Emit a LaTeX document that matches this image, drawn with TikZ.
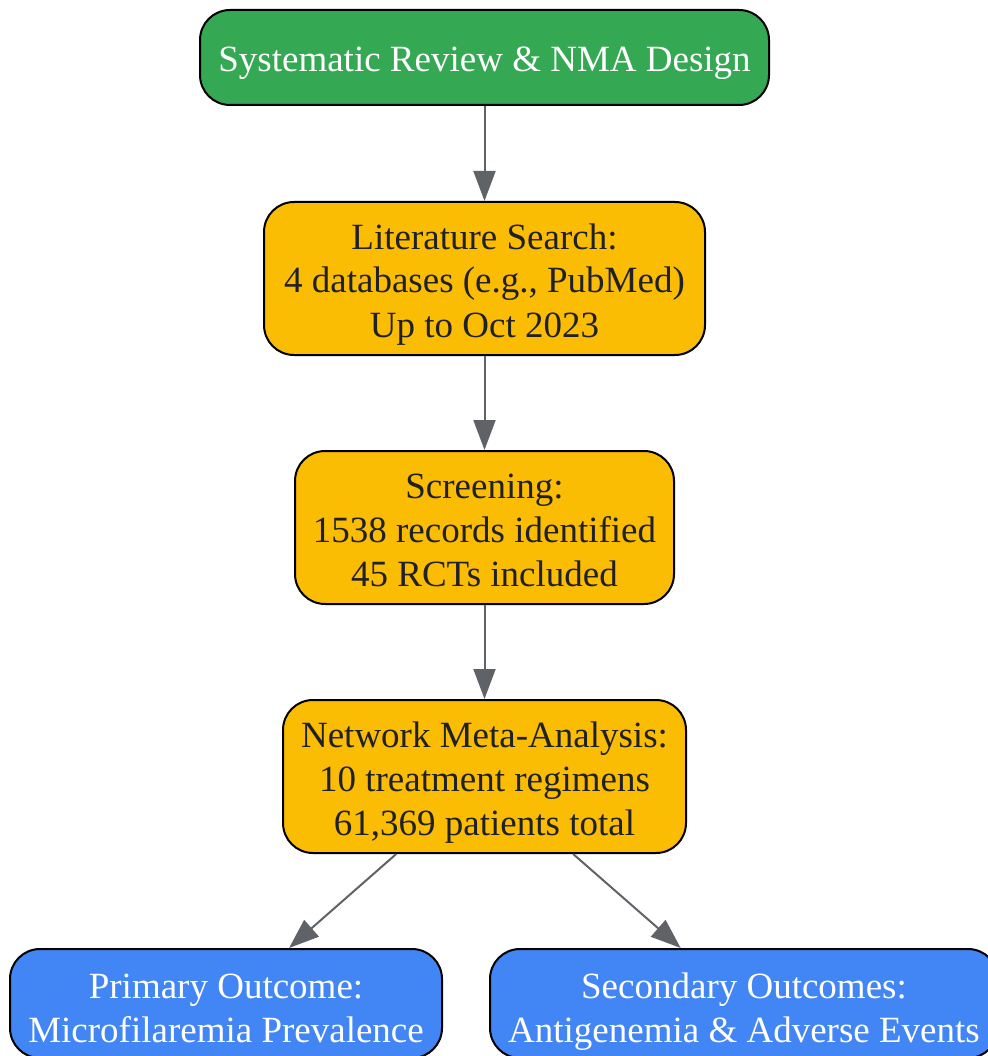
\documentclass[tikz,border=0pt]{standalone}
\usepackage{fontspec}
\setmainfont{Liberation Serif}
\usetikzlibrary{arrows.meta}
\definecolor{gGreen}{HTML}{34A853}
\definecolor{gYellow}{HTML}{FBBC04}
\definecolor{gBlue}{HTML}{4285F4}
\definecolor{gGray}{HTML}{5F6368}
\definecolor{gText}{HTML}{202124}
\begin{document}
\begin{tikzpicture}[x=1pt,y=1pt,
  box/.style={draw=black, line width=2pt, rounded corners=30pt, align=center,
    inner sep=0pt, font=\fontsize{37}{44}\selectfont},
  greenbox/.style={box, fill=gGreen, text=white, text height=39pt, text depth=10pt},
  yellowbox/.style={box, fill=gYellow, text=gText, text height=127pt, text depth=10pt},
  bluebox/.style={box, fill=gBlue, text=white, text height=83pt, text depth=5pt},
  conn/.style={draw=gGray, line width=2pt, -{Triangle[length=30pt,width=22pt]}}
]
\useasboundingbox (0,0) rectangle (987,-1056);
\node[greenbox, minimum width=569pt, minimum height=95pt] (design) at (484.5,-57.5) {Systematic Review \& NMA Design};
\node[yellowbox, minimum width=441pt, minimum height=153pt] (search) at (484.5,-278.5) {Literature Search:\\4 databases (e.g., PubMed)\\Up to Oct 2023};
\node[yellowbox, minimum width=379pt, minimum height=153pt] (screen) at (484.5,-527.5) {Screening:\\1538 records identified\\45 RCTs included};
\node[yellowbox, minimum width=403pt, minimum height=153pt] (nma) at (484.5,-776.5) {Network Meta-Analysis:\\10 treatment regimens\\61,369 patients total};
\node[bluebox, minimum width=432pt, minimum height=109pt] (primary) at (226,-1003.5) {Primary Outcome:\\Microfilaremia Prevalence};
\node[bluebox, minimum width=508pt, minimum height=109pt] (secondary) at (744,-1003.5) {Secondary Outcomes:\\Antigenemia \& Adverse Events};
\draw[conn] (design) -- (search);
\draw[conn] (search) -- (screen);
\draw[conn] (screen) -- (nma);
\draw[conn] (nma) -- (primary);
\draw[conn] (nma) -- (secondary);
\end{tikzpicture}
\end{document}
